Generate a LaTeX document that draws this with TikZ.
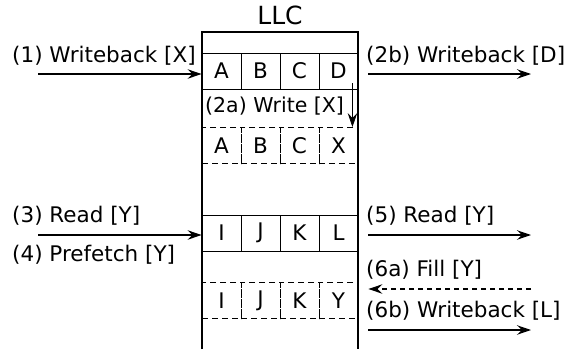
\documentclass[tikz,border=0pt]{standalone}
\usepackage{fontspec}
\setmainfont{DejaVu Sans}
\usetikzlibrary{arrows.meta}

\tikzset{
  box/.style={line width=1.6pt},
  cell/.style={draw, line width=0.9pt, minimum width=39pt, minimum height=36pt, inner sep=0pt,
    font=\fontsize{21.5}{26}\selectfont},
  dcell/.style={cell, dash pattern=on 6pt off 4pt},
  lbl/.style={anchor=base west, inner sep=0pt, font=\fontsize{21.5}{26}\selectfont},
  flow/.style={line width=1.1pt, -{Stealth[length=14pt,width=9.5pt,inset=5pt]}},
  fill flow/.style={flow, dash pattern=on 5pt off 4pt}
}

\begin{document}
\begin{tikzpicture}[x=1pt,y=-1pt]
\useasboundingbox (0,0) rectangle (566,349);
% the cache
\draw[box] (202,349) -- (202,32) -- (358,32) -- (358,349);
\node[anchor=base, inner sep=0pt, font=\fontsize{25}{30}\selectfont] (llc) at (280,24) {LLC};
% set before the writeback
\node[cell] (a1) at (221.5,71) {A};
\node[cell] (b1) at (260.5,71) {B};
\node[cell] (c1) at (299.5,71) {C};
\node[cell] (d1) at (338.5,71) {D};
\node[dcell] (a2) at (221.5,145.5) {A};
\node[dcell] (b2) at (260.5,145.5) {B};
\node[dcell] (c2) at (299.5,145.5) {C};
\node[dcell] (x2) at (338.5,145.5) {X};
% set before the read
\node[cell] (i1) at (221.5,233) {I};
\node[cell] (j1) at (260.5,233) {J};
\node[cell] (k1) at (299.5,233) {K};
\node[cell] (l1) at (338.5,233) {L};
\node[dcell] (i2) at (221.5,300.5) {I};
\node[dcell] (j2) at (260.5,300.5) {J};
\node[dcell] (k2) at (299.5,300.5) {K};
\node[dcell] (y2) at (338.5,300.5) {Y};
% labels
\node[lbl] (t1) at (12,62) {(1) Writeback [X]};
\node[lbl] (t2a) at (205,112) {\fontsize{20.5}{24}\selectfont(2a) Write [X]};
\node[lbl] (t2b) at (366,62) {(2b) Writeback [D]};
\node[lbl] (t3) at (12,222) {(3) Read [Y]};
\node[lbl] (t4) at (12,261) {(4) Prefetch [Y]};
\node[lbl] (t5) at (366,222) {(5) Read [Y]};
\node[lbl] (t6a) at (366,276) {(6a) Fill [Y]};
\node[lbl] (t6b) at (366,317) {(6b) Writeback [L]};
% flows
\coordinate (in1) at (38,74);
\coordinate (out2b) at (531,74);
\coordinate (in3) at (38,235);
\coordinate (out5) at (531,235);
\coordinate (in6a) at (531,289);
\coordinate (out6b) at (531,330);
\draw[flow] (in1) -- (in1 -| a1.west);
\draw[flow] ([xshift=10pt]d1.east |- out2b) -- (out2b);
\draw[flow, line width=0.8pt] ([xshift=-6pt]d1.east |- 0,83) -- ([xshift=-6pt]x2.north east);
\draw[flow] (in3) -- (in3 -| i1.west);
\draw[flow] ([xshift=10pt]l1.east |- out5) -- (out5);
\draw[fill flow] (in6a) -- ([xshift=10pt]y2.east |- in6a);
\draw[flow] ([xshift=10pt]y2.east |- out6b) -- (out6b);
\end{tikzpicture}
\end{document}
